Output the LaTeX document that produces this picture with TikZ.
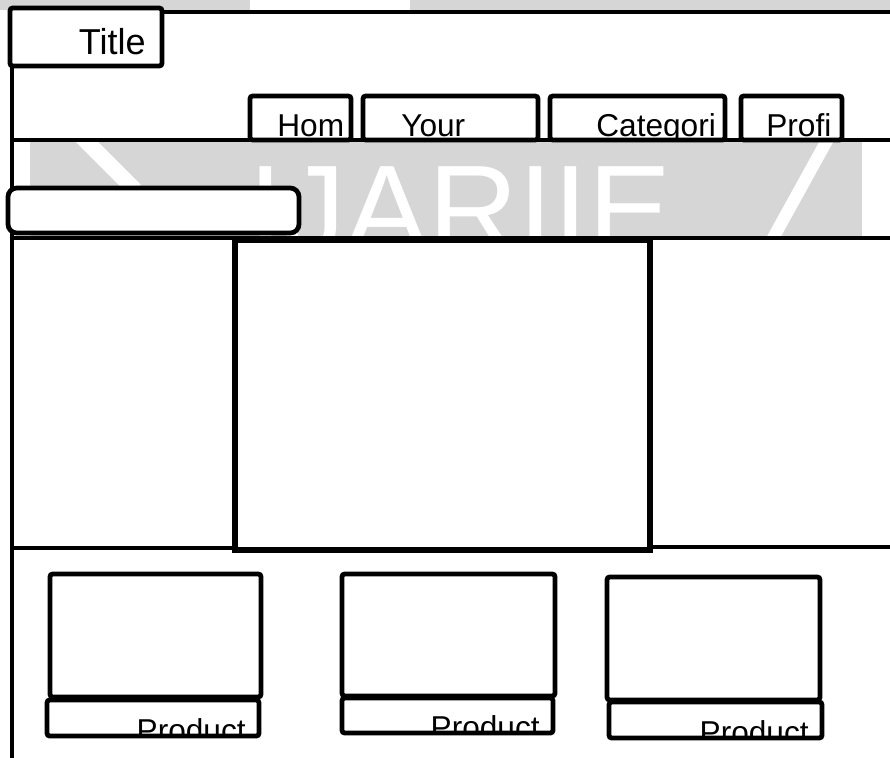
\documentclass[tikz,border=0pt]{standalone}
\usepackage{fontspec}
\setmainfont{Liberation Sans}
\usetikzlibrary{positioning,fit,calc}

\begin{document}
\begin{tikzpicture}[x=0.02cm, y=-0.02cm,
    frame/.style={line width=2.7pt, line cap=rect},
    box/.style={draw, line width=2.7pt, rounded corners=1.5pt, inner sep=0pt, outer sep=0pt, fill=white},
    cliptxt/.style={inner sep=0pt, font=\fontsize{18}{18}\selectfont},
    navtxt/.style={cliptxt, anchor=base west},
    prodtxt/.style={cliptxt, anchor=base east},
]
\useasboundingbox (0,0) rectangle (890,758);

% Watermark
\fill[black!16] (0,0) rectangle (250,10);
\fill[black!16] (410,0) rectangle (890,10);
\begin{scope}
\clip (30,142) rectangle (862,237);
\fill[black!16] (30,142) rectangle (862,237);
\draw[white, line width=9pt] (80,135) -- (135,190);
\draw[white, line width=7pt] (830,135) -- (772,240);
\node[white, anchor=base west, inner sep=0pt, font=\fontsize{71}{71}\selectfont] (logo) at (248,252) {IJARIIE};
\end{scope}

% Frame
\draw[frame] (10,12) -- (890,12);
\draw[frame] (12,12) -- (12,758);
\draw[frame] (12,140) -- (890,140);
\draw[frame] (12,238) -- (890,238);
\draw[frame] (12,548) -- (235,548);
\draw[frame] (650,547) -- (890,547);

% Header
\node[box, fit={(10,8) (162,66)}] (title) {};
\begin{scope}
\clip (title.south west) rectangle (title.north east);
\node[cliptxt, anchor=base east, font=\fontsize{20.5}{20.5}\selectfont] (titletxt) at ([shift={(-16,-12)}]title.south east) {Title};
\end{scope}

% Menu
\node[box, fit={(250,96) (351,140)}] (home) {};
\node[box, fit={(363,96) (538,140)}] (orders) {};
\node[box, fit={(550,96) (725,140)}] (categories) {};
\node[box, fit={(741,96) (842,140)}] (profile) {};
\begin{scope}
\clip (home.south west) rectangle (home.north east);
\node[navtxt] (hometxt) at ([shift={(27,-4)}]home.south west) {Hom};
\end{scope}
\begin{scope}
\clip (orders.south west) rectangle (orders.north east);
\node[navtxt] (orderstxt) at ([shift={(38,-4)}]orders.south west) {Your};
\end{scope}
\begin{scope}
\clip (categories.south west) rectangle (categories.north east);
\node[navtxt] (categoriestxt) at ([shift={(46,-4)}]categories.south west) {Categori};
\end{scope}
\begin{scope}
\clip (profile.south west) rectangle (profile.north east);
\node[navtxt] (profiletxt) at ([shift={(25,-4)}]profile.south west) {Profi};
\end{scope}

% Search
\node[box, rounded corners=5pt, fit={(8,188) (299,233)}] (search) {};

% Banner
\node[box, line width=3pt, rounded corners=0pt, fit={(235,240) (650,550)}] (banner) {};

% Products
\node[box, fit={(50,574) (261,697)}] (img1) {};
\node[box, fit={(342,574) (555,696)}] (img2) {};
\node[box, fit={(607,577) (820,700)}] (img3) {};
\node[box, fit={(47,700) (259,736)}] (prod1) {};
\node[box, fit={(342,698) (553,733)}] (prod2) {};
\node[box, fit={(609,702) (822,738)}] (prod3) {};
\begin{scope}
\clip (prod1.south west) rectangle (prod1.north east);
\node[prodtxt] (prod1txt) at ([shift={(-13,5)}]prod1.south east) {Product};
\end{scope}
\begin{scope}
\clip (prod2.south west) rectangle (prod2.north east);
\node[prodtxt] (prod2txt) at ([shift={(-13,5)}]prod2.south east) {Product};
\end{scope}
\begin{scope}
\clip (prod3.south west) rectangle (prod3.north east);
\node[prodtxt] (prod3txt) at ([shift={(-13,5)}]prod3.south east) {Product};
\end{scope}
\end{tikzpicture}
\end{document}
